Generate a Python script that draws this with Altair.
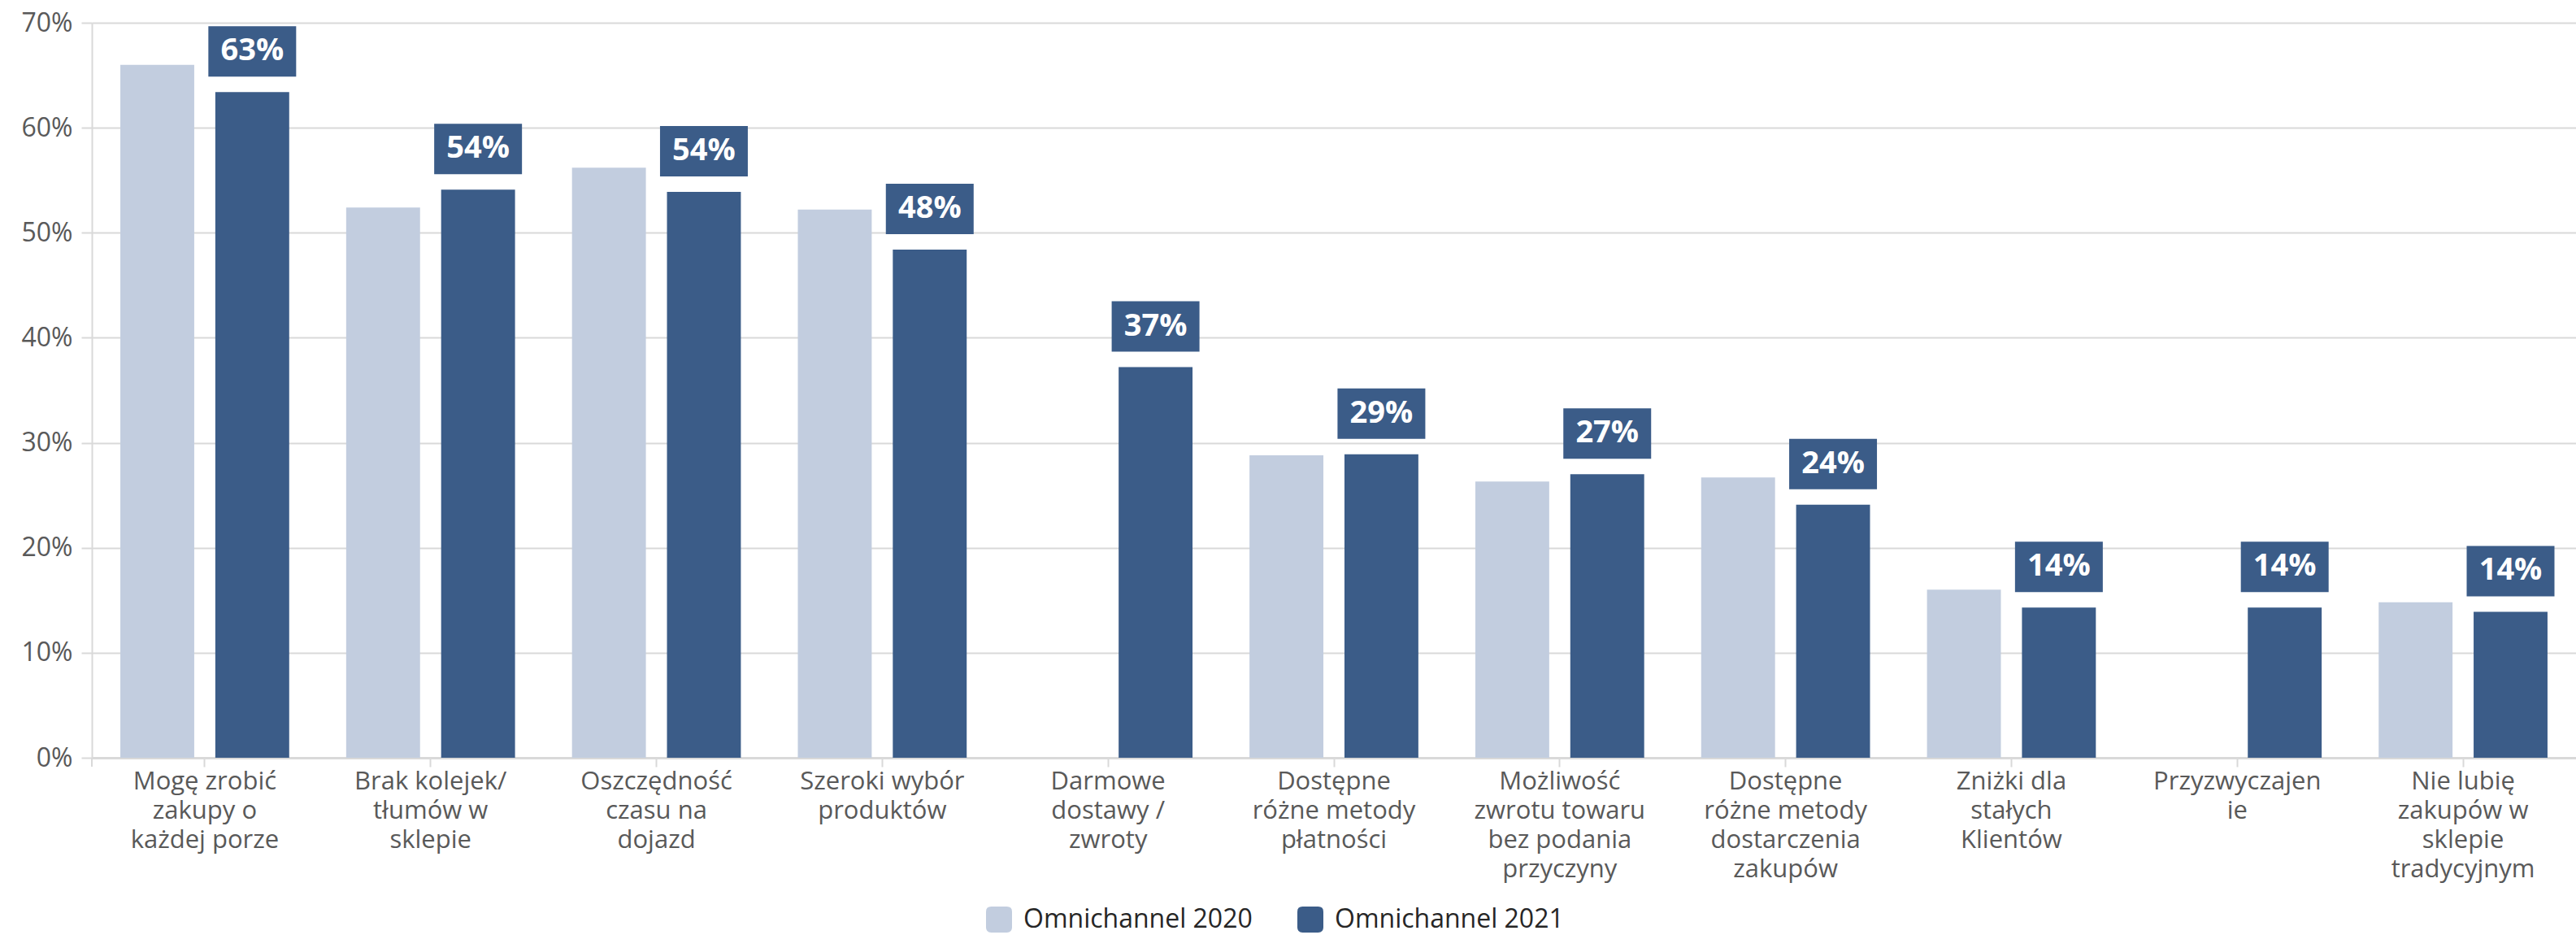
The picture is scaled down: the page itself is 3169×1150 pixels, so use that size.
import altair as alt
import pandas as pd

# Reasons for choosing omnichannel shopping, share of respondents (%)
categories = [
    "Mogę zrobić\nzakupy o\nkażdej porze",
    "Brak kolejek/\ntłumów w\nsklepie",
    "Oszczędność\nczasu na\ndojazd",
    "Szeroki wybór\nproduktów",
    "Darmowe\ndostawy /\nzwroty",
    "Dostępne\nróżne metody\npłatności",
    "Możliwość\nzwrotu towaru\nbez podania\nprzyczyny",
    "Dostępne\nróżne metody\ndostarczenia\nzakupów",
    "Zniżki dla\nstałych\nKlientów",
    "Przyzwyczajen\nie",
    "Nie lubię\nzakupów w\nsklepie\ntradycyjnym",
]
series_names = ["Omnichannel 2020", "Omnichannel 2021"]
# None = not asked in that year
values_2020 = [66.0, 52.4, 56.2, 52.2, None, 28.8, 26.3, 26.7, 16.0, None, 14.8]
values_2021 = [63.4, 54.1, 53.9, 48.4, 37.2, 28.9, 27.0, 24.1, 14.3, 14.3, 13.9]
series_colors = ["#C2CDDF", "#3B5C88"]

rows = []
for cat, v20, v21 in zip(categories, values_2020, values_2021):
    if v20 is not None:
        rows.append({"category": cat, "series": series_names[0], "value": v20})
    if v21 is not None:
        rows.append({"category": cat, "series": series_names[1], "value": v21})
df = pd.DataFrame(rows)

W, H = 3056, 904
FONT = "Open Sans"
GRID = "#d9d9d9"

x_enc = alt.X(
    "category:N",
    sort=categories,
    scale=alt.Scale(paddingInner=0, paddingOuter=0),
    axis=alt.Axis(
        title=None,
        labelAngle=0,
        labelExpr="split(datum.label, '\\n')",
        labelFont=FONT,
        labelFontSize=31,
        labelLineHeight=36,
        labelColor="#595959",
        labelPadding=3,
        labelLimit=0,
        labelOverlap=False,
        labelBaseline="top",
        domain=True,
        domainColor=GRID,
        domainWidth=3,
        ticks=True,
        tickSize=11,
        tickColor=GRID,
        tickWidth=2,
        grid=False,
    ),
)
xoff_enc = alt.XOffset(
    "series:N",
    scale=alt.Scale(domain=series_names, paddingInner=0.222, paddingOuter=0.3),
)
y_enc = alt.Y(
    "value:Q",
    scale=alt.Scale(domain=[0, 70], nice=False),
    axis=alt.Axis(
        title=None,
        values=[0, 10, 20, 30, 40, 50, 60, 70],
        labelExpr="datum.value + '%'",
        labelFont=FONT,
        labelFontSize=32,
        labelColor="#595959",
        labelPadding=11,
        domain=True,
        domainColor=GRID,
        domainWidth=2,
        ticks=True,
        tickSize=13,
        tickColor=GRID,
        tickWidth=2,
        grid=True,
        gridColor=GRID,
        gridWidth=2,
    ),
)

rounded_square = (
    "M-0.6,-1L0.6,-1Q1,-1 1,-0.6L1,0.6Q1,1 0.6,1L-0.6,1"
    "Q-1,1 -1,0.6L-1,-0.6Q-1,-1 -0.6,-1Z"
)

bars = alt.Chart(df).mark_bar().encode(
    x=x_enc,
    xOffset=xoff_enc,
    y=y_enc,
    color=alt.Color(
        "series:N",
        scale=alt.Scale(domain=series_names, range=series_colors),
        legend=alt.Legend(
            orient="none",
            legendX=1100,
            legendY=1087,
            direction="horizontal",
            title=None,
            symbolType=rounded_square,
            symbolSize=1024,
            symbolStrokeWidth=0,
            symbolOpacity=1,
            labelFont=FONT,
            labelFontSize=32,
            labelColor="#262626",
            labelOffset=14,
            columnPadding=55,
            labelLimit=0,
        ),
    ),
)

labelled = (
    alt.Chart(df)
    .transform_filter(alt.datum.series == series_names[1])
    .transform_calculate(label="format(datum.value, '.0f') + '%'")
)

# value badges above the 2021 bars: 108 x 62 px box
box_path = "M-1,-0.574L1,-0.574L1,0.574L-1,0.574Z"
boxes = labelled.mark_point(
    shape=box_path,
    size=108 * 108,
    filled=True,
    color=series_colors[1],
    opacity=1,
    strokeWidth=0,
    yOffset=-50,
).encode(x=x_enc, xOffset=xoff_enc, y=y_enc)

texts = labelled.mark_text(
    font=FONT,
    fontSize=38,
    fontWeight="bold",
    color="white",
    baseline="middle",
    align="center",
    yOffset=-50,
).encode(x=x_enc, xOffset=xoff_enc, y=y_enc, text="label:N")

# short extension of the value axis below the baseline
axis_stub = alt.Chart(pd.DataFrame({"k": [0]})).mark_rule(
    color=GRID, strokeWidth=2
).encode(x=alt.value(0), y=alt.value(H), y2=alt.value(H + 11))

chart = (
    alt.layer(bars, boxes, texts, axis_stub)
    .properties(
        width=W,
        height=H,
        autosize=alt.AutoSizeParams(type="none"),
        padding={"left": 113, "top": 28, "right": 0, "bottom": 218},
    )
    .configure_view(stroke=None)
)

chart.save("out.html", embed_options={"renderer": "svg", "actions": False})
